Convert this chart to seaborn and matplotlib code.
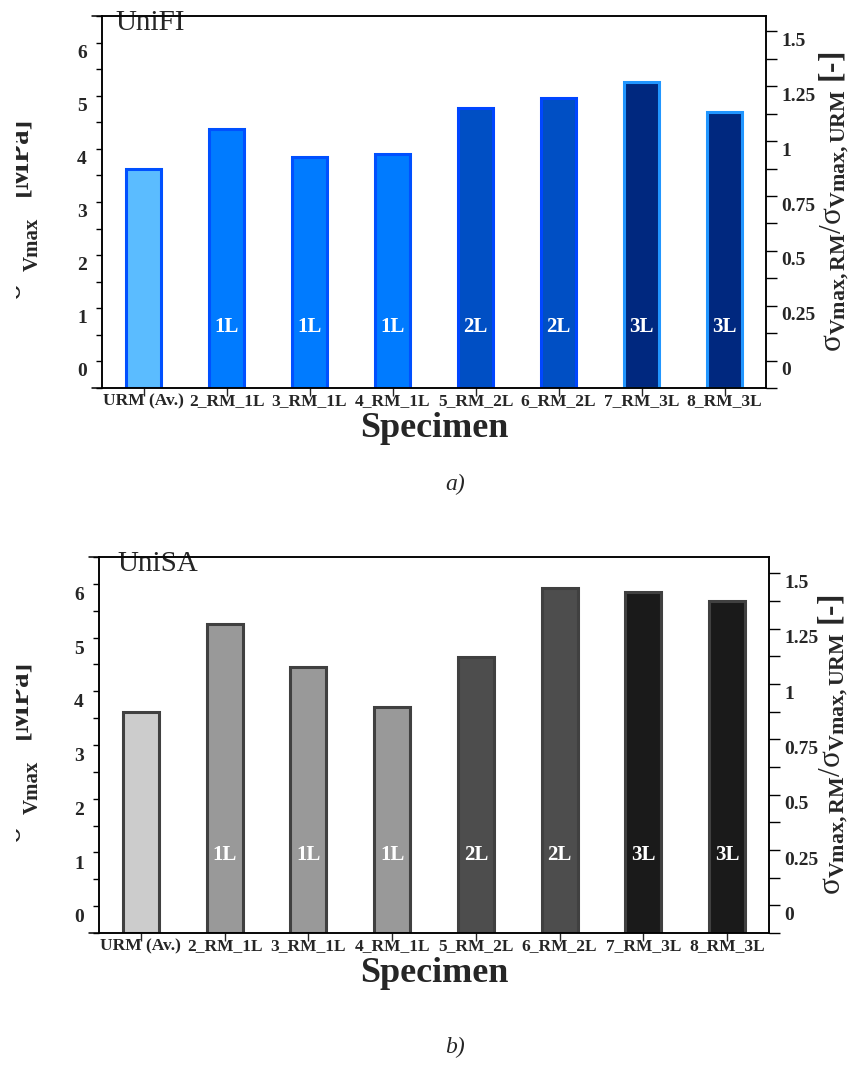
import numpy as np
import pandas as pd
import matplotlib
matplotlib.use("Agg")
import matplotlib.pyplot as plt
import seaborn as sns
from matplotlib.ticker import MultipleLocator, FixedLocator, FixedFormatter
from matplotlib.patches import Rectangle

# ---------------- data ----------------
specimens = ["URM (Av.)", "2_RM_1L", "3_RM_1L", "4_RM_1L",
             "5_RM_2L", "6_RM_2L", "7_RM_3L", "8_RM_3L"]
layers = ["", "1L", "1L", "1L", "2L", "2L", "3L", "3L"]
unifi_values = [4.13, 4.87, 4.35, 4.41, 5.27, 5.45, 5.76, 5.19]
unisa_values = [4.12, 5.76, 4.96, 4.21, 5.14, 6.43, 6.34, 6.18]
left_tick_labels = ["0", "1", "2", "3", "4", "5", "6"]
right_tick_labels = ["0", "0.25", "0.5", "0.75", "1", "1.25", "1.5"]

unifi_fill = ["#5bbcff", "#007bff", "#007bff", "#007bff",
              "#004fc4", "#004fc4", "#00287f", "#00287f"]
unifi_edge = ["#0050ff", "#0050ff", "#0050ff", "#0050ff",
              "#0046ff", "#0046ff", "#2196ff", "#2196ff"]
unisa_fill = ["#cccccc", "#999999", "#999999", "#999999",
              "#4d4d4d", "#4d4d4d", "#1a1a1a", "#1a1a1a"]
unisa_edge = ["#404040"] * 8

# ---------------- style ----------------
sns.set_style("ticks")
plt.rcParams["font.family"] = ["Liberation Serif", "DejaVu Serif"]
plt.rcParams["mathtext.fontset"] = "custom"
plt.rcParams["mathtext.rm"] = "Liberation Serif"
plt.rcParams["mathtext.bf"] = "Liberation Serif:bold"
plt.rcParams["mathtext.it"] = "Liberation Serif:italic"
plt.rcParams["axes.linewidth"] = 1.1

W, H = 858, 1085
fig = plt.figure(figsize=(W / 100, H / 100), dpi=100)


def px_rect(l, r, t, b):
    return [l / W, 1 - b / H, (r - l) / W, (b - t) / H]


def panel(rect, values, fills, edges, title, title_x, layer_y,
          left_lab_off, right_lab_off, rlabel_x):
    ax = fig.add_axes(rect)
    df = pd.DataFrame({"Specimen": specimens, "V": values})
    sns.barplot(data=df, x="Specimen", y="V", hue="Specimen",
                palette=fills, legend=False, width=0.43, saturation=1,
                linewidth=2.2, edgecolor="k", ax=ax)
    for p, ec in zip(ax.patches, edges):
        p.set_edgecolor(ec)
    ax.set_xlim(-0.5, 7.5)
    ax.set_ylim(0, 7)
    ax.set_xlabel("")
    ax.set_ylabel("")
    # left axis ticks
    ax.yaxis.set_major_locator(FixedLocator([k + left_lab_off for k in range(7)]))
    ax.yaxis.set_major_formatter(FixedFormatter(left_tick_labels))
    ax.yaxis.set_minor_locator(MultipleLocator(0.5))
    ax.tick_params(axis="y", which="major", length=0, pad=11,
                   labelsize=14)
    ax.tick_params(axis="y", which="minor", length=4.3, width=1,
                   direction="out", color="k")
    for t in ax.get_yticklabels():
        t.set_fontweight("bold")
    ax.tick_params(axis="x", length=6, width=1, pad=-2, labelsize=12.5)
    for t in ax.get_xticklabels():
        t.set_fontweight("bold")
    for s in ax.spines.values():
        s.set_visible(True)
        s.set_color("k")
    # extend top & bottom lines a bit to the left of the left spine
    ext = 10 / (rect[2] * W)
    ax.axhline(7, xmin=-ext, xmax=0, color="k", lw=1.1, clip_on=False)
    ax.axhline(0, xmin=-ext, xmax=0, color="k", lw=1.1, clip_on=False)

    # layer labels
    for i, lab in enumerate(layers):
        if lab:
            ax.text(i, layer_y, lab, ha="center", va="center",
                    color="white", fontweight="bold", fontsize=15)
    ax.text(title_x, 0.962, title, transform=ax.transAxes, fontsize=21,
            ha="left", va="baseline")
    ax.set_xlabel("Specimen", fontsize=26, fontweight="bold")
    ax.xaxis.set_label_coords(0.5, -0.065)

    # right axis (ratio)
    ax2 = ax.twinx()
    ax2.set_ylim(0, 7 / values[0])
    ax2.yaxis.set_major_locator(
        FixedLocator([0.125 - right_lab_off + 0.25 * k for k in range(7)]))
    ax2.yaxis.set_major_formatter(FixedFormatter(right_tick_labels))
    ax2.yaxis.set_minor_locator(MultipleLocator(0.125))
    ax2.tick_params(axis="y", which="major", length=0, pad=11, labelsize=14)
    ax2.tick_params(axis="y", which="minor", length=8, width=1,
                    direction="out", color="k")
    for t in ax2.get_yticklabels():
        t.set_fontweight("bold")
    for s in ax2.spines.values():
        s.set_visible(True)
        s.set_color("k")
    ax2.text(rlabel_x, 0.5,
             r"$\mathrm{\sigma}_{\mathbf{Vmax,RM}}/\mathrm{\sigma}_{\mathbf{Vmax,URM}}$ [-]",
             transform=ax2.transAxes, rotation=90, ha="left", va="center",
             fontsize=22.5, fontweight="bold")
    return ax


ax_a = panel(px_rect(102, 766, 16, 388), unifi_values, unifi_fill, unifi_edge,
             "UniFI", 0.02, 1.15, 0.34, 0.037, 1.0708 + 4 / 664)
ax_b = panel(px_rect(99, 769, 557, 933), unisa_values, unisa_fill, unisa_edge,
             "UniSA", 0.028, 1.45, 0.32, 0.037, 1.064 + 4 / 670)

# left y labels (partly cut at the left edge, as in the reference)
for yc in (202, 745):
    fig.text(27 / W, 1 - (yc + 88) / H, "\u03c3", rotation=90, ha="right",
             va="center", fontsize=24)
    fig.text(43 / W, 1 - (yc + 42) / H, "Vmax", rotation=90, ha="right",
             va="center", fontsize=15, fontweight="bold")
    fig.text(32 / W, 1 - (yc - 46) / H, "[MPa]", rotation=90, ha="right",
             va="center", fontsize=21, fontweight="bold")
fig.patches.append(Rectangle((0, 0), 16 / W, 1, transform=fig.transFigure,
                             facecolor="white", edgecolor="none", zorder=10))

fig.text(455 / W, 1 - 484 / H, "a)", ha="center", va="center",
         fontsize=17, fontstyle="italic")
fig.text(455 / W, 1 - 1047 / H, "b)", ha="center", va="center",
         fontsize=17, fontstyle="italic")

fig.savefig("out.png", dpi=100)
